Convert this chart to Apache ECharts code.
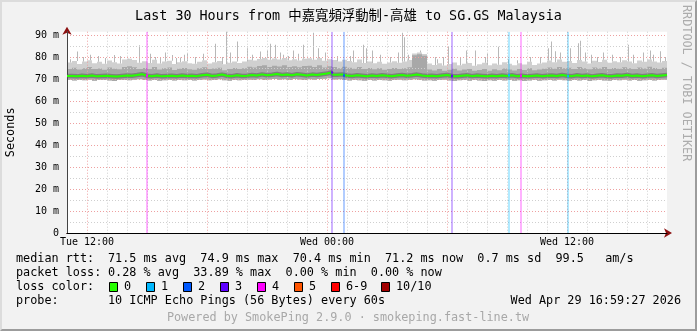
<!DOCTYPE html>
<html><head><meta charset="utf-8">
<script src="https://cdn.jsdelivr.net/npm/echarts@6/dist/echarts.min.js"></script>
<style>
html,body{margin:0;padding:0;background:#f2f2f2;}
#c{width:697px;height:331px;position:absolute;left:0;top:0;}
#frame{position:absolute;left:0;top:0;width:697px;height:331px;box-sizing:border-box;border-top:2px solid #dcdcdc;border-left:2px solid #dcdcdc;border-right:2px solid #9c9c9c;border-bottom:2px solid #9c9c9c;pointer-events:none;}
</style></head><body>
<div id="c"></div><div id="frame"></div>
<script>
// ---- data (hours since Tue 11:00, 15-minute bins) ----
const binHours = 0.25;
const hiVals = [
77.5,78.2,76.8,77.9,78.5,77.2,77.8,76.9,78.4,77.6,77.1,78.9,79.2,78.6,77.4,78.1,77.3,78.7,77.0,77.9,78.3,76.8,77.6,78.1,
77.2,76.9,77.8,78.5,77.1,77.6,78.2,76.7,77.4,78.0,77.3,77.9,78.8,78.4,79.1,79.5,78.7,79.3,78.9,79.6,78.5,79.0,78.4,79.2,
79.4,78.8,79.6,78.3,79.0,78.6,77.9,78.8,78.2,77.6,78.9,77.3,78.0,77.2,77.8,76.9,77.5,78.1,77.4,77.9,78.6,81.6,82.0,81.4,
77.0,76.4,77.2,76.1,76.8,77.5,76.3,76.9,77.3,76.0,76.7,77.4,76.2,77.1,76.5,77.6,76.9,76.3,77.2,76.6,77.8,76.4,77.0,77.5,
78.4,77.6,78.9,77.8,78.2,77.3,78.6,77.9,77.1,78.3,77.7,78.8,77.4,78.1,77.6,78.5,77.9,77.2,78.4,77.8,78.9,78.0,77.5,78.2];
const midVals = [
74.6,75.1,74.3,74.9,75.4,74.5,74.8,74.2,75.2,74.7,74.4,75.5,75.8,75.3,74.6,75.0,74.5,75.4,74.3,74.9,75.2,74.1,74.7,75.0,
74.4,74.2,74.9,75.3,74.5,74.8,75.1,74.0,74.6,75.0,74.5,74.9,75.6,75.2,75.9,76.2,75.5,76.0,75.7,76.3,75.4,75.8,75.3,75.9,
76.0,75.5,76.2,75.2,75.8,75.4,74.9,75.6,75.1,74.7,75.5,74.5,75.0,74.4,74.9,74.2,74.6,75.0,74.5,74.9,75.3,80.8,81.2,80.6,
74.3,73.9,74.5,73.8,74.2,74.7,73.9,74.3,74.6,73.7,74.1,74.6,73.8,74.4,74.0,74.8,74.3,73.9,74.5,74.1,74.9,74.0,74.3,74.7,
75.2,74.7,75.5,74.9,75.1,74.6,75.4,74.9,74.4,75.2,74.8,75.5,74.6,75.0,74.7,75.3,74.9,74.5,75.2,74.8,75.6,75.0,74.6,75.1];
const medVals = [
71.4,71.2,71.5,71.3,71.6,71.2,71.4,71.5,71.3,71.1,71.4,71.6,71.5,71.8,72.2,71.5,71.3,71.6,71.2,71.4,71.5,71.3,71.6,71.4,
71.5,71.3,71.7,71.9,71.4,71.6,72.0,71.5,71.3,71.7,71.4,71.5,71.8,71.6,72.1,71.7,71.9,72.3,71.8,72.0,71.7,72.2,71.9,71.6,
72.0,71.8,72.2,72.5,73.0,71.9,72.1,71.6,71.4,71.7,71.5,71.3,71.6,71.4,71.7,71.5,71.3,71.6,71.8,71.5,71.7,72.0,71.6,71.4,
71.5,71.3,71.6,71.8,71.4,71.2,71.5,71.7,71.3,71.6,71.4,71.2,71.5,71.3,71.6,71.4,71.7,71.3,71.5,71.2,71.4,71.6,71.3,71.5,
71.6,71.4,71.8,71.5,71.3,71.7,71.4,71.6,71.2,71.5,71.7,71.4,71.3,71.6,71.5,71.8,71.4,71.6,71.3,71.5,71.7,71.4,71.6,71.8];
const loVals = [
69.5,69.3,69.6,69.4,69.7,69.2,69.5,69.6,69.3,69.1,69.5,69.6,69.4,69.7,69.9,69.5,69.3,69.6,69.2,69.4,69.6,69.3,69.5,69.4,
69.5,69.3,69.6,69.8,69.4,69.5,69.9,69.4,69.2,69.6,69.4,69.5,69.7,69.5,69.9,69.6,69.8,70.0,69.7,69.9,69.6,70.0,69.8,69.5,
69.9,69.7,70.0,70.1,70.3,69.8,69.9,69.5,69.3,69.6,69.4,69.2,69.5,69.3,69.6,69.4,69.2,69.5,69.7,69.4,69.6,69.9,69.5,69.3,
69.4,69.2,69.5,69.7,69.3,69.1,69.4,69.6,69.2,69.5,69.3,69.1,69.4,69.2,69.5,69.3,69.6,69.2,69.4,69.1,69.3,69.5,69.2,69.4,
69.5,69.3,69.7,69.4,69.2,69.6,69.3,69.5,69.1,69.4,69.6,69.3,69.2,69.5,69.4,69.7,69.3,69.5,69.2,69.4,69.6,69.3,69.5,69.7];
// single-ping peaks [hour, ms]
const spikes = [[0.15,79],[0.49,82.5],[0.8,80],[1.15,81],[1.55,80.5],[1.9,79.5],[2.35,80.9],[2.65,80.5],[3.05,79],
[3.62,85.3],[4.15,81.5],[4.4,80],[4.65,80],[4.9,82],[5.23,80.9],[5.45,79.5],[5.65,79.8],[5.85,81],[5.98,81.7],
[6.4,80],[6.8,81.5],[7.4,86],[7.75,80],[7.95,92],[8.15,82],[8.49,87],[8.98,84],[9.25,81],[9.65,82.5],[9.99,83],
[10.15,86],[10.4,85.6],[10.65,82],[10.8,81],[11.05,80.5],[11.3,83],[11.55,81.5],[11.8,85.6],
[12.3,91],[12.55,84],[12.9,82],[13.5,80.5],[14.15,80.5],[14.3,83],[14.8,85.6],[14.95,84],[15.25,83],[15.65,81],
[16.15,80],[16.55,82],[16.75,91],[16.85,89],[17.05,81],[17.65,83],[18.4,80],[18.5,79],[18.8,80],
[19.05,84.6],[19.65,79.5],[19.95,83],[20.4,83],[20.9,80],[21.0,81.5],[21.55,84.7],[22.05,79],[22.5,78.5],[23.15,80],
[23.65,80],[24.05,84],[24.2,87],[24.4,82.6],[24.65,82],[25.15,84],[25.55,86.2],[25.65,87.4],[25.9,82],[26.2,81],
[26.5,80],[26.8,82],[27.25,81],[27.65,80],[28.05,85.6],[28.3,81],[28.8,82],[29.15,83],[29.3,81],[29.65,82.6],[29.9,80]];
// loss events [hour, lost pings of 10]
const lossEvents = [[3.985,4],[13.235,3],[13.85,2],[19.235,3],[22.115,1],[22.685,4],[25.065,1]];
const tickHours = [1,13,25];
const tickLabels = ['Tue 12:00','Wed 00:00','Wed 12:00'];
const lossLegend = ['0','1','2','3','4','5','6-9','10/10'];
const lossLegendColors = ['#26ff00','#00b8ff','#0059ff','#5e00ff','#ff00ff','#ff5500','#ff0000','#a10000'];
const statsRtt = '71.5 ms avg  74.9 ms max  70.4 ms min  71.2 ms now  0.7 ms sd  99.5   am/s';
const statsLoss = '0.28 % avg  33.89 % max  0.00 % min  0.00 % now';

const MONO = "'DejaVu Sans Mono', 'Noto Sans CJK TC', monospace";
const Y_MAX = 91.5, X_MAX = 30;
function lossColor(n){ if(n>=10) return lossLegendColors[7]; if(n>=6) return lossLegendColors[6]; return lossLegendColors[n]; }

const smokeData = hiVals.map((h,i)=>[i*binHours, loVals[i], midVals[i], h]);
const medLine = medVals.map((m,i)=>[i*binHours, m]).concat([[X_MAX, medVals[medVals.length-1]]]);
const spikeData = spikes.map(s=>[s[0], s[1], hiVals[Math.min(hiVals.length-1, Math.floor(s[0]/binHours))]]);
const lossData = lossEvents.map(e=>[e[0], e[1], medVals[Math.floor(e[0]/binHours)]]);

const chart = echarts.init(document.getElementById('c'), null, {renderer:'canvas'});

const legendX = [109,146,183,220,257,294,331,381];
const graphics = [];
function txt(x,y,text,extra){ return Object.assign({type:'text', x:x, y:y, z:10, style:Object.assign({text:text, font:'11.8px '+MONO, fill:'#000', verticalAlign:'middle', textVerticalAlign:'middle', align:'left'}, extra||{})}); }
graphics.push(txt(16,259,'median rtt:'));
graphics.push(txt(108,259,statsRtt));
graphics.push(txt(16,273,'packet loss:'));
graphics.push(txt(108,273,statsLoss));
graphics.push(txt(16,287,'loss color:'));
lossLegend.forEach((l,i)=>{
  graphics.push({type:'rect', z:10, shape:{x:legendX[i]+0.5, y:282.5, width:8, height:9}, style:{fill:lossLegendColors[i], stroke:'#000', lineWidth:1}});
  graphics.push(txt(legendX[i]+15,287,l));
});
graphics.push(txt(16,301,'probe:'));
graphics.push(txt(108,301,'10 ICMP Echo Pings (56 Bytes) every 60s'));
graphics.push(txt(681,301,'Wed Apr 29 16:59:27 2026',{align:'right', textAlign:'right'}));
graphics.push(txt(348,318,'Powered by SmokePing 2.9.0 · smokeping.fast-line.tw',{align:'center', textAlign:'center', fill:'#a8a8a8'}));
graphics.push({type:'text', x:686, y:5, rotation:-Math.PI/2, z:10, style:{text:'RRDTOOL / TOBI OETIKER', font:'11.8px '+MONO, fill:'#acacac', align:'left', textAlign:'left', verticalAlign:'middle', textVerticalAlign:'middle'}});

const RED = '#eea0a0', GRAY = '#cfcfcf';
const option = {
  animation:false,
  backgroundColor:'#f2f2f2',
  title:{text:'Last 30 Hours from 中嘉寬頻浮動制-高雄 to SG.GS Malaysia', left:'center', top:5,
    textStyle:{fontFamily:MONO, fontSize:13.4, fontWeight:'normal', color:'#000'}},
  grid:{left:67, right:30, top:31.7, bottom:98, show:true, backgroundColor:'#fff', borderWidth:0, containLabel:false, outerBoundsMode:'none'},
  xAxis:[{
    type:'value', min:0, max:X_MAX, interval:1, z:3,
    axisLine:{show:true, onZero:false, lineStyle:{color:'#000', width:1}},
    axisTick:{show:false},
    axisLabel:{fontFamily:MONO, fontSize:10, color:'#000', margin:4,
      formatter:v=>{const k=tickHours.indexOf(v); return k>=0?tickLabels[k]:'';}},
    splitLine:{show:true, showMaxLine:false, lineStyle:{color:[GRAY,RED,GRAY,GRAY,GRAY,GRAY], type:[1,2], width:1}}
  },{
    type:'value', min:0, max:X_MAX, interval:1, z:2.5, position:'bottom',
    axisLine:{show:true, onZero:false, symbol:['none','arrow'], symbolSize:[7,8], symbolOffset:[0,5], lineStyle:{color:'#8b1010', width:1}},
    axisTick:{show:false}, axisLabel:{show:false}, splitLine:{show:false}
  }],
  yAxis:[{
    type:'value', min:0, max:Y_MAX, interval:5, z:3,
    name:'Seconds', nameLocation:'middle', nameGap:50, nameRotate:90, nameMoveOverlap:false,
    nameTextStyle:{fontFamily:MONO, fontSize:11.8, color:'#000'},
    axisLine:{show:true, onZero:false, lineStyle:{color:'#444', width:1}},
    axisTick:{show:false},
    axisLabel:{fontFamily:MONO, fontSize:10, color:'#000', margin:8, showMaxLabel:false,
      formatter:v=>{ if(v===0) return '0'; return (Math.abs(v%10)<1e-9)? (v+' m') : ''; }},
    splitLine:{show:true, showMaxLine:false, lineStyle:{color:[RED,GRAY], type:[1,2], width:1}}
  },{
    type:'value', min:0, max:Y_MAX, interval:5, z:2.5, position:'left', offset:0,
    axisLine:{show:true, onZero:false, symbol:['none','arrow'], symbolSize:[7,8], symbolOffset:[0,5], lineStyle:{color:'#8b1010', width:1}},
    axisTick:{show:false}, axisLabel:{show:false}, splitLine:{show:false}
  }],
  series:[
    { type:'custom', name:'smoke', xAxisIndex:0, yAxisIndex:0, z:1, clip:true, silent:true,
      encode:{x:0, y:[1,2,3]}, data:smokeData,
      renderItem:(params, api)=>{
        const x0 = api.coord([api.value(0), 0])[0];
        const x1 = api.coord([api.value(0)+binHours, 0])[0];
        const yLo = api.coord([0, api.value(1)])[1];
        const yMid = api.coord([0, api.value(2)])[1];
        const yHi = api.coord([0, api.value(3)])[1];
        return {type:'group', children:[
          {type:'rect', shape:{x:x0, y:yHi, width:x1-x0, height:yLo-yHi}, style:{fill:'#d0d0d0'}},
          {type:'rect', shape:{x:x0, y:yMid, width:x1-x0, height:yLo-yMid}, style:{fill:'#a8a8a8'}}
        ]};
      }},
    { type:'custom', name:'spikes', xAxisIndex:0, yAxisIndex:0, z:1, clip:true, silent:true,
      encode:{x:0, y:[1,2]}, data:spikeData,
      renderItem:(params, api)=>{
        const p = api.coord([api.value(0), api.value(1)]);
        const b = api.coord([api.value(0), api.value(2)]);
        return {type:'rect', shape:{x:Math.round(p[0]), y:p[1], width:1, height:b[1]-p[1]}, style:{fill:'#b8b8b8'}};
      }},
    { type:'line', name:'core', xAxisIndex:0, yAxisIndex:0, z:4, step:'end', symbol:'none', silent:true,
      data:medLine, lineStyle:{color:'#555', width:4.5, opacity:0.5}},
    { type:'line', name:'median', xAxisIndex:0, yAxisIndex:0, z:5, step:'end', symbol:'none', silent:true,
      data:medLine, lineStyle:{color:'#26ff00', width:2}},
    { type:'custom', name:'loss', xAxisIndex:0, yAxisIndex:0, z:6, clip:true, silent:true,
      encode:{x:0, y:2}, data:lossData,
      renderItem:(params, api)=>{
        const c = lossColor(api.value(1));
        const p = api.coord([api.value(0), 0]);
        const t = api.coord([api.value(0), Y_MAX]);
        const m = api.coord([api.value(0), api.value(2)]);
        const x = Math.round(p[0]) - 1;
        return {type:'group', children:[
          {type:'rect', shape:{x:x, y:t[1], width:2, height:p[1]-t[1]}, style:{fill:c, opacity:0.3}},
          {type:'rect', shape:{x:x, y:m[1]-1, width:2, height:2}, style:{fill:c}}
        ]};
      }}
  ],
  graphic:graphics
};
chart.setOption(option);
</script></body></html>
